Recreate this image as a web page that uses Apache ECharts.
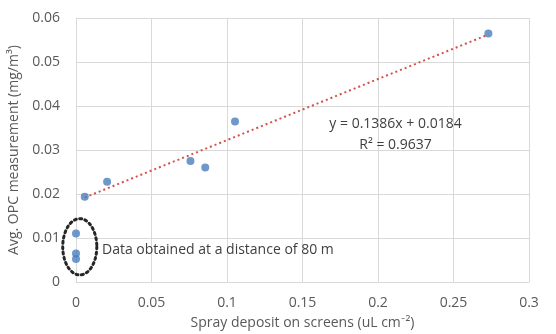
<!DOCTYPE html>
<html><head><meta charset="utf-8">
<script src="https://cdn.jsdelivr.net/npm/echarts@6/dist/echarts.min.js"></script>
<style>html,body{margin:0;padding:0;background:#fff}#c{width:556px;height:334px}</style>
</head><body><div id="c"></div>
<script>
const xTicks = [0, 0.05, 0.1, 0.15, 0.2, 0.25, 0.3];
const yTicks = [0, 0.01, 0.02, 0.03, 0.04, 0.05, 0.06];
const sprayDeposit = [0.0058, 0.0206, 0.0758, 0.0856, 0.1053, 0.2731, 0, 0, 0];
const opcMeasurement = [0.0194, 0.0228, 0.0275, 0.0260, 0.0365, 0.0565, 0.0110, 0.0065, 0.0052];
const trendSlope = 0.1386;
const trendIntercept = 0.0184;
const trendRange = [0.0058, 0.2731];
const eqText = 'y = 0.1386x + 0.0184';
const r2Text = 'R² = 0.9637';
const noteText = 'Data obtained at a distance of 80 m';
// annotation anchors in data units
const eqAnchor = [0.2116, 0.0358];
const r2Anchor = [0.2116, 0.0312];
const noteAnchor = [0.0172, 0.0073];
const ellipseCenter = [0.0025, 0.0080];
const ellipseRadius = [0.0113, 0.0064];

const font = '"Open Sans", Lato, sans-serif';
const fs = 14;
const pts = sprayDeposit.map((x, i) => [x, opcMeasurement[i]]);
const trend = trendRange.map(x => [x, trendSlope * x + trendIntercept]);

const chart = echarts.init(document.getElementById('c'));
chart.setOption({
  animation: false,
  grid: {left: 76, right: 27, top: 18, bottom: 52, containLabel: false, outerBoundsMode: 'none'},
  xAxis: {
    type: 'value', min: xTicks[0], max: xTicks[xTicks.length-1], interval: 0.05,
    name: 'Spray deposit on screens (uL cm⁻²)', nameLocation: 'middle', nameGap: 34,
    nameTextStyle: {fontFamily: font, fontSize: fs, color: '#595959'},
    axisLine: {show: true, lineStyle: {color: '#d9d9d9'}},
    axisTick: {show: false},
    axisLabel: {fontFamily: font, fontSize: fs, color: '#595959', margin: 14},
    splitLine: {show: true, lineStyle: {color: '#d9d9d9'}}
  },
  yAxis: {
    type: 'value', min: yTicks[0], max: yTicks[yTicks.length-1], interval: 0.01,
    name: 'Avg. OPC measurement (mg/m³)', nameLocation: 'middle', nameGap: 52,
    nameTextStyle: {fontFamily: font, fontSize: fs, color: '#595959'},
    axisLine: {show: true, lineStyle: {color: '#d9d9d9'}},
    axisTick: {show: false},
    axisLabel: {fontFamily: font, fontSize: fs, color: '#595959', margin: 16},
    splitLine: {show: true, lineStyle: {color: '#d9d9d9'}}
  },
  series: [
    {
      type: 'line', data: trend, symbol: 'none', z: 2,
      lineStyle: {color: '#d6504a', width: 2, type: [2, 3]}
    },
    {
      type: 'scatter', data: pts, symbolSize: 8, z: 3,
      itemStyle: {color: '#4a7ebb'}
    },
    {
      type: 'custom', z: 4, data: [[0]], silent: true,
      renderItem: function (params, api) {
        const c = api.coord(ellipseCenter);
        const s = api.size(ellipseRadius);
        const poly = [];
        for (let k = 0; k <= 72; k++) {
          const a = k / 72 * Math.PI * 2;
          poly.push([c[0] + s[0] * Math.cos(a), c[1] + s[1] * Math.sin(a)]);
        }
        const noteP = api.coord(noteAnchor);
        const eqP = api.coord(eqAnchor);
        const r2P = api.coord(r2Anchor);
        const tf = fs + 'px ' + font;
        return {
          type: 'group', children: [
            {type: 'polyline', shape: {points: poly},
             style: {stroke: '#262626', lineWidth: 3, lineDash: [2, 3.4], lineCap: 'round', fill: null}},
            {type: 'text', x: noteP[0], y: noteP[1],
             style: {text: noteText, font: tf, fill: '#404040', align: 'left', verticalAlign: 'middle'}},
            {type: 'text', x: eqP[0], y: eqP[1],
             style: {text: eqText, font: tf, fill: '#404040', align: 'center', verticalAlign: 'middle'}},
            {type: 'text', x: r2P[0], y: r2P[1],
             style: {text: r2Text, font: tf, fill: '#404040', align: 'center', verticalAlign: 'middle'}}
          ]
        };
      }
    }
  ]
});
</script></body></html>
